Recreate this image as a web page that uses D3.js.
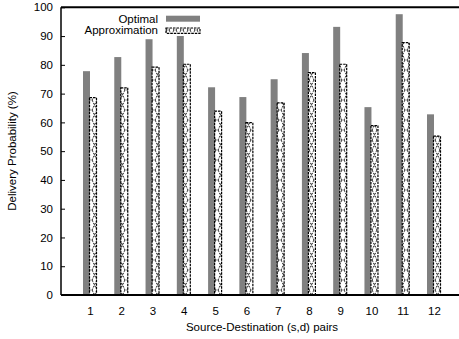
<!DOCTYPE html>
<html><head><meta charset="utf-8">
<script src="https://cdn.jsdelivr.net/npm/d3@7"></script>
<style>body{margin:0;background:#fff}svg{display:block}text{font-family:"Liberation Sans",Arial,sans-serif;fill:#000}</style>
</head><body><svg id="c" width="459" height="339"></svg>
<script>
const categories = ["1","2","3","4","5","6","7","8","9","10","11","12"];
const optimal = [77.8, 82.7, 88.9, 91, 72.2, 68.8, 75.0, 84.1, 93.2, 65.3, 97.6, 62.8];
const approximation = [68.6, 72.0, 79.2, 80.2, 63.9, 59.9, 66.8, 77.3, 80.2, 58.9, 87.7, 55.2];
const yTicks = [0,10,20,30,40,50,60,70,80,90,100];
const seriesNames = ["Optimal","Approximation"];

const svg = d3.select("#c");
const mLeft = 61, mTop = 7.3, mBottom = 295, mRight = 459;
const y = d3.scaleLinear().domain([0,100]).range([mBottom, mTop]);
const x = d3.scaleLinear().domain([1,12]).range([90, 434]);

const defs = svg.append("defs");
const pat = defs.append("pattern").attr("id","xh").attr("patternUnits","userSpaceOnUse")
  .attr("width",7).attr("height",10).attr("x",0).attr("y",0);
pat.append("rect").attr("width",7).attr("height",10).attr("fill","#fff");
pat.append("path").attr("d","M1,0 L6,10 M6,0 L1,10").attr("stroke","#000").attr("stroke-width",0.9)
  .attr("stroke-dasharray","2,1.2").attr("fill","none");

// bars
const g = svg.append("g");
g.selectAll("rect.opt").data(optimal).join("rect").attr("class","opt")
  .attr("x",(d,i)=>x(i+1)-7).attr("width",7)
  .attr("y",d=>y(d)).attr("height",d=>y(0)-y(d)).attr("fill","#808080");
g.selectAll("rect.apx").data(approximation).join("rect").attr("class","apx")
  .attr("x",(d,i)=>x(i+1)-0.5).attr("width",7)
  .attr("y",d=>y(d)).attr("height",d=>y(0)-y(d)).attr("fill","url(#xh)")
  .attr("stroke","#000").attr("stroke-width",1.2).attr("stroke-dasharray","2.5,1");

// axes
const yAxis = d3.axisLeft(y).tickValues(yTicks).tickSizeInner(-4).tickSizeOuter(0).tickPadding(8);
const ya = svg.append("g").attr("transform",`translate(${mLeft},0)`).call(yAxis);
ya.select(".domain").remove();
ya.selectAll("line").attr("stroke","#000");
ya.selectAll("text").attr("font-size","11.5px").attr("font-family","Liberation Sans, Arial, sans-serif");

const xAxis = d3.axisBottom(x).tickValues(d3.range(1,13)).tickFormat((d,i)=>categories[i]).tickSize(0).tickPadding(12);
const xa = svg.append("g").attr("transform",`translate(0,${mBottom})`).call(xAxis);
xa.select(".domain").remove();
xa.selectAll("text").attr("font-size","11.5px").attr("font-family","Liberation Sans, Arial, sans-serif");

// frame lines
svg.append("line").attr("x1",mLeft).attr("x2",mRight).attr("y1",mBottom).attr("y2",mBottom).attr("stroke","#000").attr("stroke-width",2);
svg.append("line").attr("x1",mLeft).attr("x2",mRight).attr("y1",mTop).attr("y2",mTop).attr("stroke","#000").attr("stroke-width",2);
svg.append("line").attr("x1",mLeft).attr("x2",mLeft).attr("y1",mTop).attr("y2",mBottom).attr("stroke","#000").attr("stroke-width",1.5);

// legend
const lg = svg.append("g");
lg.append("rect").attr("x",82).attr("y",12).attr("width",122).attr("height",24).attr("fill","#fff");
lg.append("text").attr("x",158).attr("y",22.5).attr("text-anchor","end").attr("font-size","11.5px").text(seriesNames[0]);
lg.append("rect").attr("x",166).attr("y",15.7).attr("width",34).attr("height",6).attr("fill","#808080");
lg.append("text").attr("x",158).attr("y",34).attr("text-anchor","end").attr("font-size","11.5px").text(seriesNames[1]);
lg.append("rect").attr("x",166).attr("y",28).attr("width",34).attr("height",5.3).attr("fill","url(#xh)")
  .attr("stroke","#000").attr("stroke-width",1.2).attr("stroke-dasharray","2.5,1");

// axis titles
svg.append("text").attr("x",262).attr("y",331).attr("text-anchor","middle").attr("font-size","11.5px").text("Source-Destination (s,d) pairs");
svg.append("text").attr("transform","translate(16,151) rotate(-90)").attr("text-anchor","middle").attr("font-size","11.5px").text("Delivery Probability (%)");
</script></body></html>
